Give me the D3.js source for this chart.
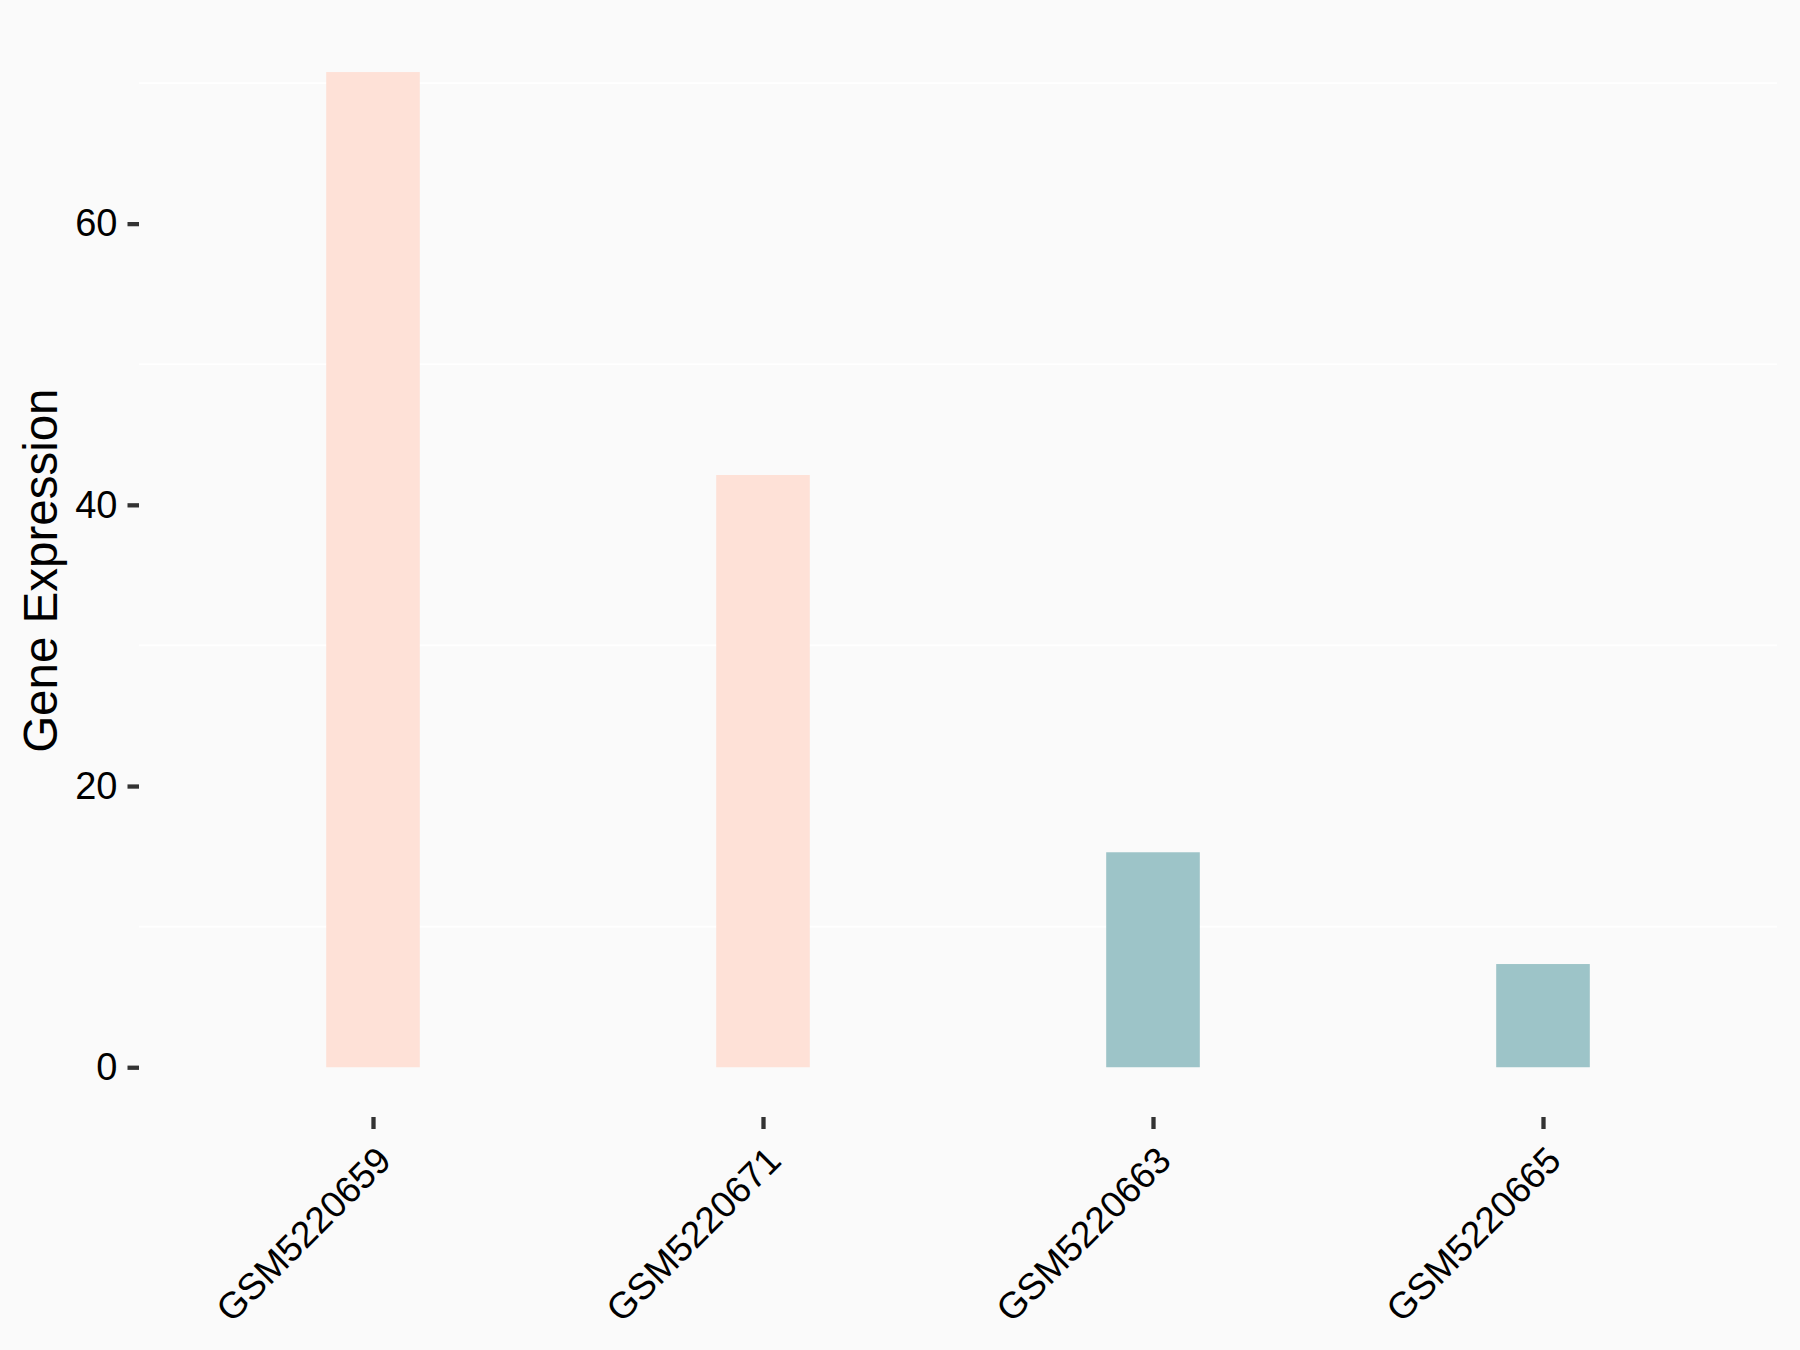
<!DOCTYPE html>
<html>
<head>
<meta charset="utf-8">
<script src="https://cdn.jsdelivr.net/npm/d3@7"></script>
<style>
  html, body { margin: 0; padding: 0; background: #fafafa; }
  svg { display: block; }
  text { font-family: "Liberation Sans", Arial, sans-serif; }
</style>
</head>
<body>
<svg id="chart" width="1800" height="1350"></svg>
<script>
const categories = ["GSM5220659", "GSM5220671", "GSM5220663", "GSM5220665"];
const values = [70.78, 42.12, 15.29, 7.34];
const groups = ["high", "high", "low", "low"];
const yTicks = [0, 20, 40, 60];
const yMinorTicks = [10, 30, 50, 70];
const groupColors = { high: "#fee1d7", low: "#9dc4c8" };

const W = 1800, H = 1350;
const panel = { left: 139, right: 1777, top: 22.3, bottom: 1117 };

const svg = d3.select("#chart");
svg.append("rect").attr("width", W).attr("height", H).attr("fill", "#fafafa");

const x = d3.scalePoint().domain(categories).range([panel.left, panel.right]).padding(0.6);
const vmax = d3.max(values);
const y = d3.scaleLinear().domain([-0.05 * vmax, 1.05 * vmax]).range([panel.bottom, panel.top]);
const barW = x.step() * 0.24;

// minor gridlines
svg.append("g").selectAll("line").data(yMinorTicks).join("line")
  .attr("x1", panel.left).attr("x2", panel.right)
  .attr("y1", d => y(d)).attr("y2", d => y(d))
  .attr("stroke", "#ffffff").attr("stroke-width", 1.7);

// bars
svg.append("g").selectAll("rect").data(categories).join("rect")
  .attr("x", d => x(d) - barW / 2)
  .attr("width", barW)
  .attr("y", (d, i) => y(values[i]))
  .attr("height", (d, i) => y(0) - y(values[i]))
  .attr("fill", (d, i) => groupColors[groups[i]]);

// y axis
const yAxis = d3.axisLeft(y).tickValues(yTicks).tickSize(11.5).tickPadding(10).tickFormat(d3.format("d"));
const gy = svg.append("g").attr("transform", `translate(${panel.left},0)`).call(yAxis);
gy.select(".domain").remove();
gy.selectAll(".tick line").attr("stroke", "#333333").attr("stroke-width", 4.3);
gy.selectAll(".tick text").attr("fill", "#000").style("font-size", "38px")
  .attr("font-family", "Liberation Sans, Arial, sans-serif");

// x axis
const xAxis = d3.axisBottom(x).tickSize(12).tickPadding(0);
const gx = svg.append("g").attr("transform", `translate(0,${panel.bottom})`).call(xAxis);
gx.select(".domain").remove();
gx.selectAll(".tick line").attr("stroke", "#333333").attr("stroke-width", 4.3);
gx.selectAll(".tick text")
  .attr("fill", "#000").style("font-size", "37px")
  .attr("font-family", "Liberation Sans, Arial, sans-serif")
  .attr("text-anchor", "end")
  .attr("y", 0).attr("dy", "0.75em")
  .attr("transform", "translate(0,26) rotate(-45)");

// y title
svg.append("text")
  .attr("transform", `translate(57.3,${(panel.top + panel.bottom) / 2 + 1}) rotate(-90)`)
  .attr("text-anchor", "middle")
  .style("font-size", "47.5px")
  .attr("fill", "#000")
  .text("Gene Expression");
</script>
</body>
</html>
